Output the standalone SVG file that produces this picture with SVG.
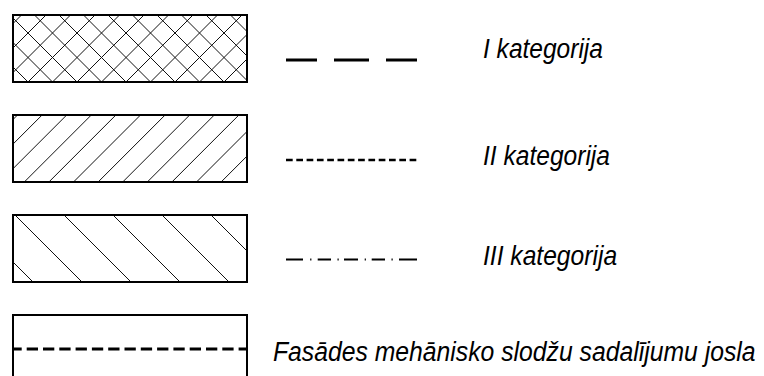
<svg xmlns="http://www.w3.org/2000/svg" width="764" height="376" viewBox="0 0 764 376">
<style>
.frame{fill:none;stroke:#000;stroke-width:2}
.hatch{fill:none;stroke:#111;stroke-width:1}
.sample{fill:none;stroke:#000}
.lbl{font-family:"Liberation Sans",Arial,sans-serif;font-style:italic;font-size:28px;fill:#000}
</style>
<defs>
<clipPath id="c1"><rect x="13" y="15" width="234" height="67"/></clipPath>
<clipPath id="c2"><rect x="13" y="115" width="234" height="67"/></clipPath>
<clipPath id="c3"><rect x="13" y="215" width="234" height="67"/></clipPath>
</defs>
<rect width="764" height="376" fill="#fff"/>
<g id="cat1-swatch">
<g class="hatch" clip-path="url(#c1)">
<path d="M21.5 15L-45.5 82M46 15L-21 82M70.5 15L3.5 82M95 15L28 82M119.5 15L52.5 82M144 15L77 82M168.5 15L101.5 82M193 15L126 82M217.5 15L150.5 82M242 15L175 82M266.5 15L199.5 82M291 15L224 82"/>
<path d="M-39 15L28 82M-14.5 15L52.5 82M10 15L77 82M34.5 15L101.5 82M59 15L126 82M83.5 15L150.5 82M108 15L175 82M132.5 15L199.5 82M157 15L224 82M181.5 15L248.5 82M206 15L273 82M230.5 15L297.5 82"/>
</g>
<rect class="frame" x="13" y="15" width="234" height="67"/>
</g>
<g id="cat2-swatch">
<g class="hatch" clip-path="url(#c2)">
<path d="M17.5 115L-49.5 182M42.1 115L-24.9 182M66.7 115L-0.3 182M91.3 115L24.3 182M115.9 115L48.9 182M140.5 115L73.5 182M165.1 115L98.1 182M189.7 115L122.7 182M214.3 115L147.3 182M238.9 115L171.9 182M263.5 115L196.5 182M288.1 115L221.1 182M312.7 115L245.7 182"/>
</g>
<rect class="frame" x="13" y="115" width="234" height="67"/>
</g>
<g id="cat3-swatch">
<g class="hatch" clip-path="url(#c3)">
<path d="M-34 215L33 282M15 215L82 282M64 215L131 282M113 215L180 282M162 215L229 282M211 215L278 282"/>
</g>
<rect class="frame" x="13" y="215" width="234" height="67"/>
</g>
<g id="zone-swatch">
<path class="frame" d="M13 376V315H247V376"/>
<line x1="13" y1="349" x2="247" y2="349" stroke="#000" stroke-width="3" stroke-dasharray="11.3 5" stroke-dashoffset="2.6"/>
</g>
<g id="connectors">
<path class="sample" stroke-width="2.8" d="M286 60H317M334 60H369M386 60H417"/>
<line class="sample" stroke-width="2.5" x1="286" y1="160" x2="417" y2="160" stroke-dasharray="6.7 3.6"/>
<path class="sample" stroke-width="2" d="M286 259.5H303M310.2 259.5H311.4M317.7 259.5H331M337.5 259.5H338.7M344 259.5H358M364.7 259.5H365.9M371.7 259.5H385M391.5 259.5H392.7M399 259.5H417"/>
</g>
<g id="labels">
<text class="lbl" transform="translate(483 58) scale(0.876 1)">I kategorija</text>
<text class="lbl" transform="translate(483 165) scale(0.878 1)">II kategorija</text>
<text class="lbl" transform="translate(483 265) scale(0.879 1)">III kategorija</text>
<text class="lbl" transform="translate(273 361) scale(0.884 1)">Fasādes mehānisko slodžu sadalījumu josla</text>
</g>
</svg>
